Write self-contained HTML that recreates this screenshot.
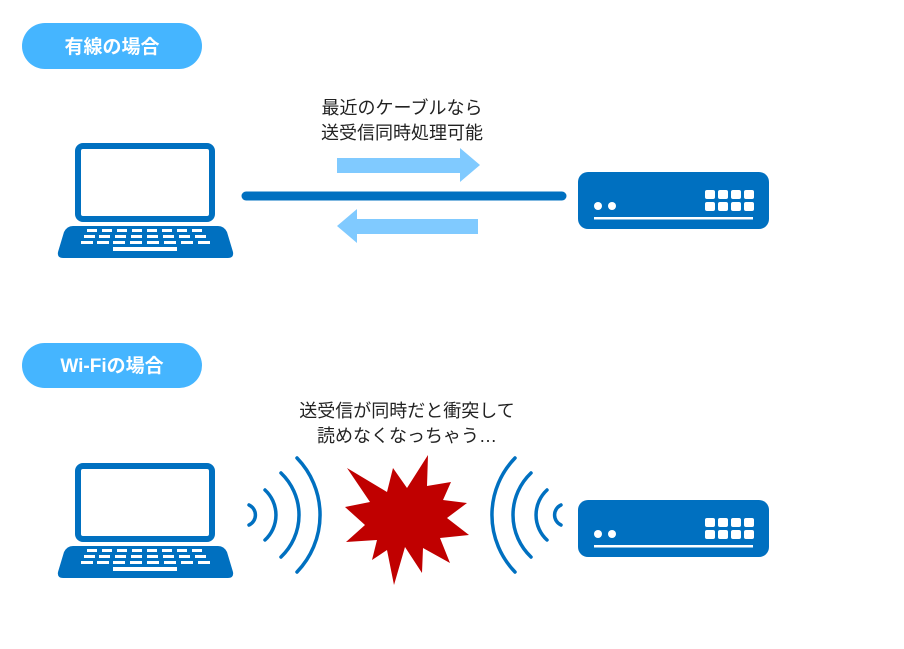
<!DOCTYPE html>
<html><head><meta charset="utf-8"><style>
body{margin:0;width:904px;height:644px;background:#fff;overflow:hidden;font-family:"Liberation Sans","Noto Sans CJK JP",sans-serif}
</style></head><body>
<svg width="904" height="644" viewBox="0 0 904 644" xmlns="http://www.w3.org/2000/svg" font-family="Liberation Sans, Noto Sans CJK JP, sans-serif">
<defs>
<g id="laptop">
<rect x="78" y="146" width="134" height="73" rx="5" fill="none" stroke="#0070c0" stroke-width="6"/>
<path d="M80 226 H218 Q224 226 227 232 L233 252 Q234 258 228 258 H63 Q57 258 58 252 L64 232 Q67 226 73 226 Z" fill="#0070c0"/>
<g fill="#fff">
<rect x="87" y="229" width="10" height="3"/><rect x="102" y="229" width="10" height="3"/><rect x="117" y="229" width="10" height="3"/><rect x="132" y="229" width="10" height="3"/><rect x="147" y="229" width="10" height="3"/><rect x="162" y="229" width="10" height="3"/><rect x="177" y="229" width="10" height="3"/><rect x="192" y="229" width="10" height="3"/>
<rect x="84" y="235" width="11" height="3"/><rect x="99" y="235" width="11" height="3"/><rect x="115" y="235" width="11" height="3"/><rect x="131" y="235" width="11" height="3"/><rect x="147" y="235" width="11" height="3"/><rect x="163" y="235" width="11" height="3"/><rect x="179" y="235" width="11" height="3"/><rect x="195" y="235" width="11" height="3"/>
<rect x="81" y="241" width="12" height="3"/><rect x="97" y="241" width="12" height="3"/><rect x="113" y="241" width="12" height="3"/><rect x="130" y="241" width="12" height="3"/><rect x="147" y="241" width="12" height="3"/><rect x="164" y="241" width="12" height="3"/><rect x="181" y="241" width="12" height="3"/><rect x="198" y="241" width="12" height="3"/>
<rect x="113" y="247" width="64" height="4"/>
</g>
</g>
<g id="router">
<rect x="578" y="172" width="191" height="57" rx="10" fill="#0070c0"/>
<circle cx="598" cy="206" r="4" fill="#fff"/><circle cx="612" cy="206" r="4" fill="#fff"/>
<g fill="#fff">
<rect x="705" y="190" width="10" height="9" rx="2"/><rect x="718" y="190" width="10" height="9" rx="2"/><rect x="731" y="190" width="10" height="9" rx="2"/><rect x="744" y="190" width="10" height="9" rx="2"/>
<rect x="705" y="202" width="10" height="9" rx="2"/><rect x="718" y="202" width="10" height="9" rx="2"/><rect x="731" y="202" width="10" height="9" rx="2"/><rect x="744" y="202" width="10" height="9" rx="2"/>
<rect x="594" y="217" width="159" height="2.5"/>
</g>
</g>
</defs>
<rect x="22" y="23" width="180" height="46" rx="23" fill="#45b5ff"/>
<text x="112" y="53" font-size="19" font-weight="bold" fill="#fff" text-anchor="middle">有線の場合</text>
<rect x="22" y="343" width="180" height="45" rx="22.5" fill="#45b5ff"/>
<text x="112" y="372" font-size="19" font-weight="bold" fill="#fff" text-anchor="middle">Wi-Fiの場合</text>

<text x="402" y="114" font-size="18" fill="#222" text-anchor="middle">最近のケーブルなら</text>
<text x="402" y="139" font-size="18" fill="#222" text-anchor="middle">送受信同時処理可能</text>
<text x="407" y="417" font-size="18" fill="#222" text-anchor="middle">送受信が同時だと衝突して</text>
<text x="407" y="442" font-size="18" fill="#222" text-anchor="middle">読めなくなっちゃう…</text>

<use href="#laptop"/>
<use href="#laptop" transform="translate(0,320)"/>
<use href="#router"/>
<use href="#router" transform="translate(0,328)"/>

<line x1="246" y1="196" x2="562" y2="196" stroke="#0070c0" stroke-width="9" stroke-linecap="round"/>
<path d="M337 158 H460 V148 L480 165 L460 182 V173 H337 Z" fill="#80caff"/>
<path d="M478 219 H357 V209 L337 226 L357 243 V234 H478 Z" fill="#80caff"/>

<g fill="none" stroke="#0070c0" stroke-width="3.5" stroke-linecap="round">
<path d="M249 505 A11 11 0 0 1 249 525"/>
<path d="M265 490 A34 34 0 0 1 265 540"/>
<path d="M281 473 A58 58 0 0 1 281 557"/>
<path d="M297 458 A82 82 0 0 1 297 572"/>
<path d="M561 505 A11 11 0 0 0 561 525"/>
<path d="M547 490 A34 34 0 0 0 547 540"/>
<path d="M531 473 A58 58 0 0 0 531 557"/>
<path d="M515 458 A82 82 0 0 0 515 572"/>
</g>
<polygon fill="#c00000" points="428,455 427,486 451,482 443,500 467,503 447,518 469,535 440,538 450,563 423,548 422,573 405,547 394,585 387,550 372,560 377,540 346,542 365,525 345,507 370,502 347,468 387,492 393,468 407,488"/>
</svg>
</body></html>
